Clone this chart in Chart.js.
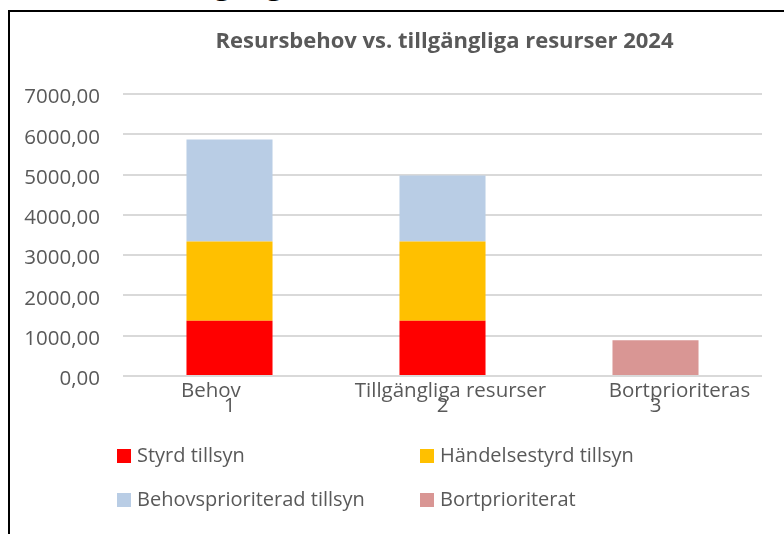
<!DOCTYPE html>
<html>
<head>
<meta charset="utf-8">
<script src="https://cdn.jsdelivr.net/npm/chart.js@4/dist/chart.umd.min.js"></script>
<style>
  body{margin:0;width:784px;height:534px;overflow:hidden;background:#fff;position:relative;font-family:"Open Sans",sans-serif;}
  .doc-text{position:absolute;left:155px;top:-37.5px;font:36px/36px "Liberation Serif",serif;color:#000;white-space:nowrap;}
  .frame{position:absolute;left:8px;top:10px;width:900px;height:700px;border-left:2px solid #000;border-top:2px solid #000;}
  .title{position:absolute;left:125px;width:639px;top:23.5px;text-align:center;font-weight:bold;font-size:22px;line-height:30px;color:#595959;white-space:nowrap;}
  canvas{position:absolute;left:0;top:0;}
  .leg{position:absolute;font-size:20px;line-height:28px;color:#595959;white-space:nowrap;}
  .leg .box{position:absolute;width:14px;height:14px;}
  .leg .txt{position:absolute;}
</style>
</head>
<body>
<div class="doc-text">, tillgång till</div>
<div class="frame"></div>
<canvas id="myChart" width="784" height="534"></canvas>
<div class="title">Resursbehov vs. tillgängliga resurser 2024</div>
<div id="legend"></div>
<script>
// data (nbsp padding keeps the first label line off-centre like the original)
const nb = n => "\u00a0".repeat(n);
const categories = [["Behov" + nb(7), "1"], [nb(3) + "Tillgängliga resurser", "2"], [nb(9) + "Bortprioriteras", "3"]];
const seriesNames = ["Styrd tillsyn", "Händelsestyrd tillsyn", "Behovsprioriterad tillsyn", "Bortprioriterat"];
const styrd = [1370, 1370, null];
const handelsestyrd = [1970, 1970, null];
const behovsprioriterad = [2530, 1640, null];
const bortprioriterat = [null, null, 890];
const seriesColors = ["#ff0000", "#ffc000", "#b9cde5", "#d99694"];
const yMax = 7000;
const yStep = 1000;

const txtColor = "#595959";
const allSeries = [styrd, handelsestyrd, behovsprioriterad, bortprioriterat];

let chart = new Chart("myChart", {
    type: "bar",
    data: {
        labels: categories,
        datasets: allSeries.map((vals, i) => ({
            label: seriesNames[i],
            data: vals,
            backgroundColor: seriesColors[i],
            borderWidth: 0,
            barPercentage: 0.404,
            categoryPercentage: 1
        }))
    },
    options: {
        responsive: false,
        animation: false,
        devicePixelRatio: 1,
        layout: {padding: {top: 94, right: 22, bottom: 108, left: 0}},
        plugins: {
            legend: {display: false},
            tooltip: {enabled: false},
            title: {display: false}
        },
        scales: {
            x: {
                stacked: true,
                grid: {display: false},
                border: {display: false},
                ticks: {
                    color: txtColor,
                    font: {family: "Open Sans", size: 20.5, lineHeight: 0.73},
                    padding: 0,
                    maxRotation: 0,
                    autoSkip: false
                },
                afterFit: function(s){ s.height = 50; }
            },
            y: {
                stacked: true,
                min: 0,
                max: yMax,
                grid: {color: "#d9d9d9", lineWidth: 2, drawTicks: false},
                border: {display: false},
                ticks: {
                    stepSize: yStep,
                    color: txtColor,
                    font: {family: "Open Sans", size: 20.5},
                    padding: 23,
                    labelOffset: 3.5,
                    callback: v => v.toFixed(2).replace(".", ",")
                },
                afterFit: function(s){ s.width = 123; }
            }
        }
    }
});

// legend in two columns, built from the chart datasets
const legendPos = [[117, 449], [420, 449], [117, 493], [420, 493]];
let legendHtml = "";
chart.data.datasets.forEach((ds, i) => {
    let p = legendPos[i];
    legendHtml += '<div class="leg" style="left:' + p[0] + 'px;top:' + p[1] + 'px">' +
        '<div class="box" style="left:0;top:0;background:' + ds.backgroundColor + '"></div>' +
        '<div class="txt" style="left:20px;top:-8px">' + ds.label + '</div></div>';
});
document.getElementById("legend").innerHTML = legendHtml;
</script>
</body>
</html>
